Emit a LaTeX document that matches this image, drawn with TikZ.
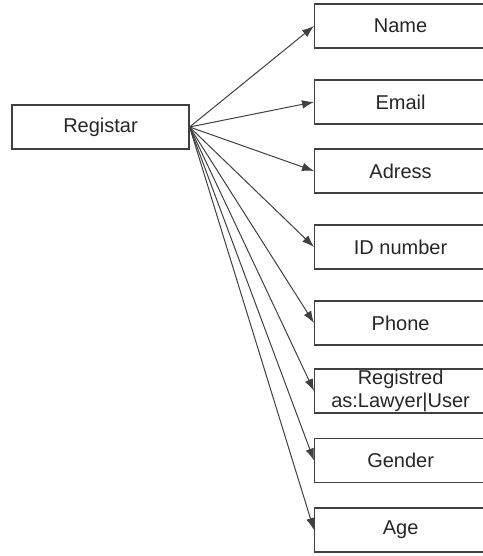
\documentclass[tikz,border=0pt]{standalone}
\usepackage{fontspec}
\setmainfont{Liberation Sans}
\usetikzlibrary{positioning, arrows.meta}

\begin{document}
\begin{tikzpicture}[
    x=0.75pt, y=-0.75pt, % pixel grid of the sketch
    >={Latex[length=9pt, width=6.5pt]},
    % Styles
    entity/.style={ % Registar box
        rectangle,
        draw=black!75,
        line width=0.9pt,
        minimum width=132.75pt,
        minimum height=33pt,
        inner sep=0pt,
        align=center,
        text=black!85,
        font=\fontsize{15}{17.25}\selectfont
    },
    field/.style={ % attribute boxes on the right
        entity,
        minimum width=129pt,
        anchor=west
    },
    arrow/.style={
        ->,
        draw=black!75,
        line width=0.75pt
    }
]
    \useasboundingbox (0,0) rectangle (482,556);

    % Registar
    \node[entity] (reg) at (100.5,127) {Registar};

    % Attribute boxes
    \foreach \N/\Y/\T in {name/26/Name, email/102/Email, adress/171/Adress,
        idnum/247/ID number, phone/323/Phone,
        regas/391/{Registred\\as:Lawyer|User},
        gender/460.5/Gender, age/530/Age} {
        \node[field] (\N) at (314,\Y) {\T};
    }

    % Arrows from Registar to every attribute
    \foreach \N in {name, email, adress, idnum, phone, regas, gender, age} {
        \draw[arrow] (reg.east) -- (\N.west);
    }

\end{tikzpicture}
\end{document}
